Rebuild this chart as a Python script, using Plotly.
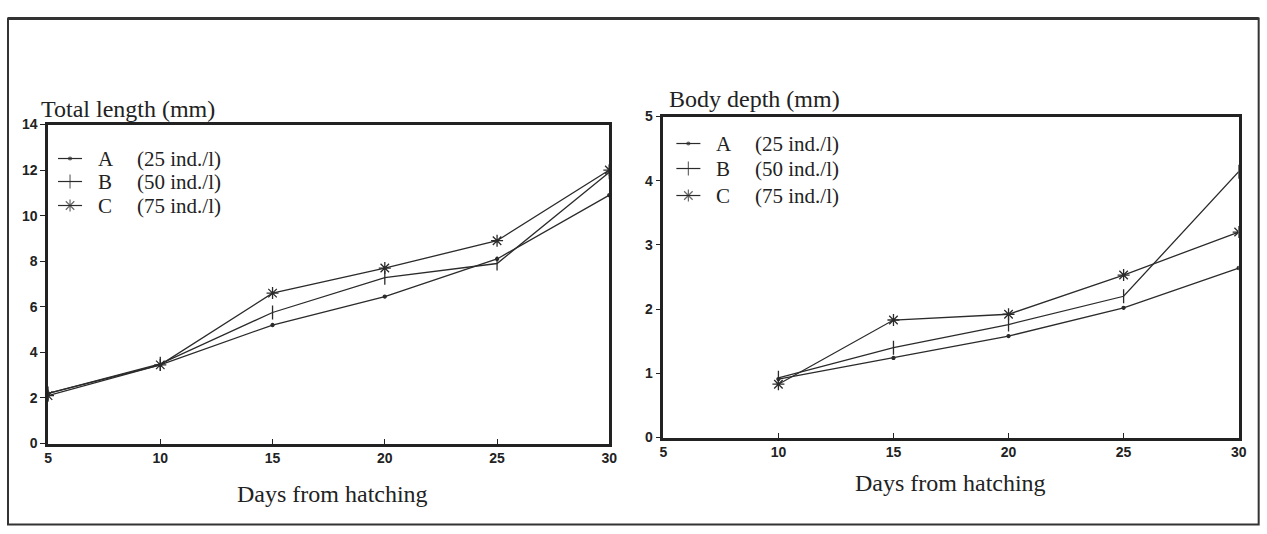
import plotly.graph_objects as go

days = [5, 10, 15, 20, 25, 30]
days_depth = [10, 15, 20, 25, 30]

series_names = ["A", "B", "C"]
series_density = ["(25 ind./l)", "(50 ind./l)", "(75 ind./l)"]

length_A = [2.2, 3.45, 5.2, 6.45, 8.1, 10.9]
length_B = [2.2, 3.5, 5.75, 7.28, 7.9, 11.9]
length_C = [2.1, 3.45, 6.6, 7.7, 8.9, 12.0]

depth_A = [0.91, 1.24, 1.58, 2.02, 2.64]
depth_B = [0.93, 1.40, 1.76, 2.20, 4.14]
depth_C = [0.83, 1.83, 1.92, 2.53, 3.20]

x_ticks = [5, 10, 15, 20, 25, 30]
length_ticks = [0, 2, 4, 6, 8, 10, 12, 14]
depth_ticks = [0, 1, 2, 3, 4, 5]

W, H = 1267, 534
# empirical correction of rendered placement (target pixel -> page pixel)
AX, BX, AY, BY = 0.99, 4.0, 0.97, 7.5
def px(x):
    return ((x - BX) / AX) / W
def py(y):
    return 1 - ((y - BY) / AY) / H

LINE = "#2b2b2b"
symbols = ["circle", "line-ns", "asterisk"]
sizes = [3, 10, 10]

fig = go.Figure()

for vals, sym, sz in zip([length_A, length_B, length_C], symbols, sizes):
    fig.add_trace(go.Scatter(
        x=days, y=vals, mode="lines+markers", showlegend=False,
        line=dict(color=LINE, width=1.3),
        marker=dict(symbol=sym, size=sz, color=LINE, line=dict(color=LINE, width=1.3)),
        xaxis="x", yaxis="y"))

for vals, sym, sz in zip([depth_A, depth_B, depth_C], symbols, sizes):
    fig.add_trace(go.Scatter(
        x=days_depth, y=vals, mode="lines+markers", showlegend=False,
        line=dict(color=LINE, width=1.3),
        marker=dict(symbol=sym, size=sz, color=LINE, line=dict(color=LINE, width=1.3)),
        xaxis="x2", yaxis="y2"))

# overlay axis in (target) pixel units for the hand-drawn legends
legend_boxes = [(58, [158, 181, 205]), (676, [143, 168, 195])]
for x0, rows in legend_boxes:
    for name, dens, sym, sz, yr in zip(series_names, series_density, symbols, sizes, rows):
        fig.add_trace(go.Scatter(
            x=[x0, x0 + 12, x0 + 24], y=[yr, yr, yr], mode="lines+markers",
            showlegend=False, hoverinfo="skip",
            line=dict(color=LINE, width=1.2),
            marker=dict(symbol=sym, size=[0, sz, 0], color=LINE,
                        line=dict(color=LINE, width=1.2)),
            xaxis="x3", yaxis="y3"))
        fig.add_annotation(text=name, xref="x3", yref="y3", x=x0 + 38, y=yr,
                           xanchor="left", yanchor="middle", showarrow=False,
                           font=dict(family="Liberation Serif", size=21, color="#222"))
        fig.add_annotation(text=dens, xref="x3", yref="y3", x=x0 + 77, y=yr,
                           xanchor="left", yanchor="middle", showarrow=False,
                           font=dict(family="Liberation Serif", size=21, color="#222"))

tickfont = dict(family="Liberation Sans", size=14, weight="bold", color="#222")
axis_common = dict(showline=True, mirror=True, linewidth=2.5, linecolor="#222",
                   showgrid=False, zeroline=False, tickfont=tickfont,
                   tickcolor="#222", ticklen=5, tickwidth=1.2)

fig.update_layout(
    width=W, height=H, autosize=False,
    margin=dict(l=0, r=0, t=0, b=0),
    paper_bgcolor="white", plot_bgcolor="rgba(0,0,0,0)",
    font=dict(family="Liberation Serif", color="#222"),
    showlegend=False,
    xaxis=dict(domain=[px(48), px(609)], range=[5, 30], tickvals=x_ticks,
               ticks="inside", anchor="y", **axis_common),
    yaxis=dict(domain=[py(443), py(124)], range=[0, 14], tickvals=length_ticks,
               ticks="outside", anchor="x", **axis_common),
    xaxis2=dict(domain=[px(663), px(1238)], range=[5, 30], tickvals=x_ticks,
                ticks="inside", anchor="y2", **axis_common),
    yaxis2=dict(domain=[py(437), py(116)], range=[0, 5], tickvals=depth_ticks,
                ticks="outside", anchor="x2", **axis_common),
    xaxis3=dict(domain=[0, 1], range=[BX, BX + AX * W], visible=False,
                fixedrange=True, anchor="y3"),
    yaxis3=dict(domain=[0, 1], range=[BY + AY * H, BY], visible=False,
                fixedrange=True, anchor="x3"),
)

title_font = dict(family="Liberation Serif", size=24, color="#222")
fig.add_annotation(text="Total length (mm)", xref="paper", yref="paper",
                   x=px(39), y=py(108), xanchor="left", yanchor="middle",
                   showarrow=False, font=title_font)
fig.add_annotation(text="Body depth (mm)", xref="paper", yref="paper",
                   x=px(667), y=py(98), xanchor="left", yanchor="middle",
                   showarrow=False, font=title_font)
fig.add_annotation(text="Days from hatching", xref="paper", yref="paper",
                   x=px(332), y=py(493), xanchor="center", yanchor="middle",
                   showarrow=False, font=title_font)
fig.add_annotation(text="Days from hatching", xref="paper", yref="paper",
                   x=px(950), y=py(482), xanchor="center", yanchor="middle",
                   showarrow=False, font=title_font)

bottom = max(py(527), 1.5 / H)
fig.add_shape(type="rect", xref="paper", yref="paper",
              x0=px(8), x1=px(1258), y0=bottom, y1=py(18),
              line=dict(color="#333", width=2))
fig.add_shape(type="line", xref="paper", yref="paper",
              x0=px(8), x1=px(1258), y0=py(18), y1=py(18),
              line=dict(color="#333", width=3))

fig.write_html("out.html", config={"displayModeBar": False},
               post_script="document.body.style.margin='0';"
                           "document.body.style.padding='0';"
                           "document.body.style.overflow='hidden';")
